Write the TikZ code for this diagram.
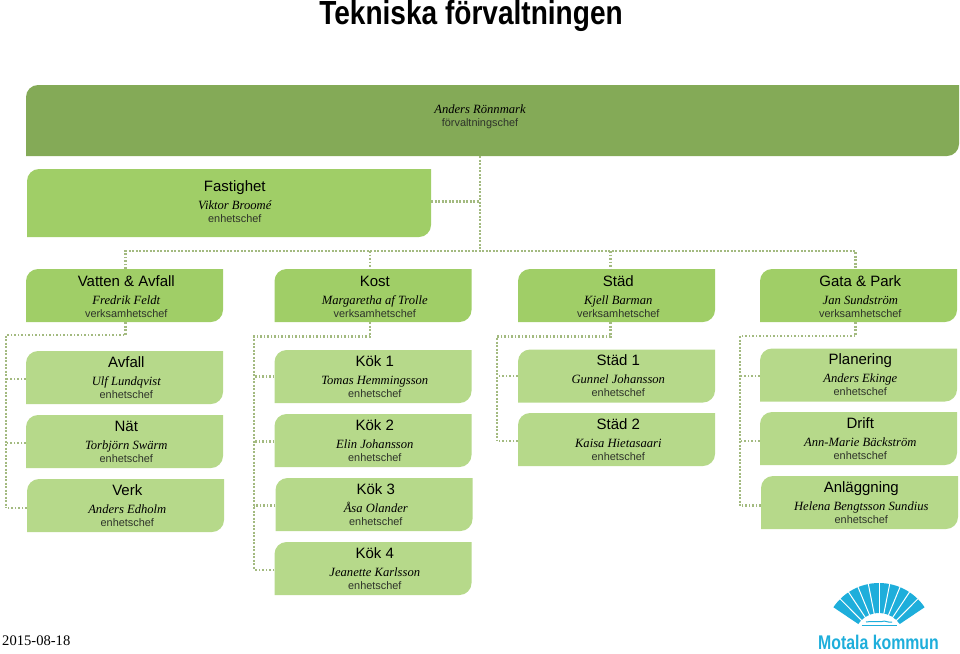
\documentclass[tikz,border=0pt]{standalone}
\usepackage{fontspec}
\setmainfont{Liberation Serif}
\setsansfont{Liberation Sans}
\newfontfamily\pagefont[FakeStretch=0.84]{Liberation Sans}
\newfontfamily\logofont[FakeStretch=0.8]{Liberation Sans}
\usetikzlibrary{positioning,calc}

\definecolor{topgreen}{HTML}{84AA57}
\definecolor{midgreen}{HTML}{A0CE67}
\definecolor{lowgreen}{HTML}{B6D98A}
\definecolor{dotgreen}{HTML}{A3BA80}
\definecolor{logoblue}{HTML}{1EAEDB}
\definecolor{rolegray}{HTML}{2E332A}

\newcommand{\tileshape}[5]{\fill[#1] (#2,#3+#5) -- (#2,#3+12) arc[start angle=180,end angle=270,radius=12] -- (#2+#4,#3) -- (#2+#4,#3+#5-12) arc[start angle=0,end angle=90,radius=12] -- cycle;}
\newcommand{\tiletext}[3]{{\sffamily\fontsize{15}{13}\selectfont #1}\\[5pt]{\itshape\fontsize{12.6}{13}\selectfont #2}\\{\sffamily\fontsize{10.9}{13}\selectfont\color{rolegray} #3}}

\tikzset{
	unit/.style={minimum width=197pt,minimum height=53pt,inner sep=0pt},
	unittext/.style={align=center,inner sep=0pt,xshift=1.8pt,text=black,font=\fontsize{12}{13}\selectfont},
	midgreen text/.style={yshift=-1.3pt},
	lowgreen text/.style={yshift=0pt},
	dotline/.style={draw=dotgreen,line width=2.4pt,dash pattern=on 1.8pt off 1.7pt},
}

\begin{document}
\begin{tikzpicture}[x=1pt,y=-1pt]
			\useasboundingbox (0,0) rectangle (960,653);
			\node[inner sep=0pt,font=\pagefont\bfseries\fontsize{33.4}{34}\selectfont] (pagetitle) at (471,16) {Tekniska förvaltningen};

			\tileshape{topgreen}{26}{85}{933}{71}
			\tileshape{midgreen}{27}{169}{404}{68}
			\node[minimum width=933pt,minimum height=71pt,inner sep=0pt] (top) at (492.5,120.5) {};
			\node[minimum width=404pt,minimum height=68pt,inner sep=0pt] (fastighet) at (229,203) {};
			\node[unittext,xshift=-1.8pt] (toptext) at (480,116.5) {{\itshape\fontsize{12.6}{13}\selectfont Anders Rönnmark}\\{\sffamily\fontsize{10.9}{13}\selectfont\color{rolegray} förvaltningschef}};
			\node[unittext,xshift=2pt,yshift=-0.5pt] (fastighettext) at (231,201) {\tiletext{Fastighet}{Viktor Broomé}{enhetschef}};

			\foreach \name/\x/\y/\tone/\head/\person/\role in {
				vatten/26/269/midgreen/Vatten \& Avfall/Fredrik Feldt/verksamhetschef,
				kost/274.5/269/midgreen/Kost/Margaretha af Trolle/verksamhetschef,
				stad/518/269/midgreen/Städ/Kjell Barman/verksamhetschef,
				gata/760/269/midgreen/Gata \& Park/Jan Sundström/verksamhetschef,
				avfall/26/351/lowgreen/Avfall/Ulf Lundqvist/enhetschef,
				nat/26/415/lowgreen/Nät/Torbjörn Swärm/enhetschef,
				verk/27/479/lowgreen/Verk/Anders Edholm/enhetschef,
				kok1/274.5/350/lowgreen/Kök 1/Tomas Hemmingsson/enhetschef,
				kok2/274.5/414/lowgreen/Kök 2/Elin Johansson/enhetschef,
				kok3/275.5/478/lowgreen/Kök 3/Åsa Olander/enhetschef,
				kok4/274.5/542/lowgreen/Kök 4/Jeanette Karlsson/enhetschef,
				stad1/518/349.5/lowgreen/Städ 1/Gunnel Johansson/enhetschef,
				stad2/518/413/lowgreen/Städ 2/Kaisa Hietasaari/enhetschef,
				planering/760/348.5/lowgreen/Planering/Anders Ekinge/enhetschef,
				drift/760/412/lowgreen/Drift/Ann-Marie Bäckström/enhetschef,
				anlaggning/761/476/lowgreen/Anläggning/Helena Bengtsson Sundius/enhetschef%
			} {
				\tileshape{\tone}{\x}{\y}{197}{53}
				\node[unit,label={[unittext,\tone\space text]center:{\tiletext{\head}{\person}{\role}}}] (\name) at (\x+98.5,\y+26.5) {};
			}

			\coordinate (trunk) at (480,251);
			\coordinate (vattendrop) at (125.5,251);
			\coordinate (kostdrop) at (370,251);
			\coordinate (staddrop) at (610.5,251);
			\coordinate (gatadrop) at (855.5,251);
			\coordinate (vattenbend) at (125.5,335);
			\coordinate (vattenrail) at (6,335);
			\coordinate (kostbend) at (370,336.5);
			\coordinate (kostrail) at (254,336.5);
			\coordinate (stadbend) at (610.5,336.5);
			\coordinate (stadrail) at (497,336.5);
			\coordinate (gatabend) at (855.5,336);
			\coordinate (gatarail) at (740,336);

			\draw[dotline] (trunk |- top.south) -- (trunk);
			\path (fastighet.east) ++(0,-1.5) coordinate (fastighetstub);
			\draw[dotline] (fastighetstub) -- (fastighetstub -| trunk);
			\draw[dotline] (vattendrop |- vatten.north) -- (vattendrop) -- (gatadrop) -- (gatadrop |- gata.north);
			\draw[dotline] (kostdrop) -- (kostdrop |- kost.north);
			\draw[dotline] (staddrop) -- (staddrop |- stad.north);

			\foreach \parent/\last/\dy in {vatten/verk/2.5,kost/kok4/1.5,stad/stad2/1.5,gata/anlaggning/3} {
				\path (\last.west) ++(0,\dy) coordinate (railend);
				\draw[dotline] (\parent bend |- \parent.south) -- (\parent bend) -- (\parent rail) -- (\parent rail |- railend);
			}
			\foreach \rail/\unitname/\dy in {vatten/avfall/1.5,vatten/nat/1.5,vatten/verk/2.5,kost/kok1/0,kost/kok2/1,kost/kok3/1,kost/kok4/1.5,stad/stad1/0,stad/stad2/1.5,gata/planering/1,gata/drift/2.5,gata/anlaggning/3} {
				\path (\unitname.west) ++(0,\dy) coordinate (stub);
				\draw[dotline] (stub) -- (stub -| \rail rail);
			}

			\node[inner sep=0pt,anchor=west,font=\fontsize{14.6}{15}\selectfont] (datestamp) at (2,641) {2015-08-18};

			\begin{scope}[shift={(879,638)},yscale=-1]
				\fill[logoblue] (34:25) -- (34:55) arc[start angle=34,end angle=146,radius=55] -- (146:25) arc[start angle=146,end angle=34,radius=25] -- cycle;
				\foreach \a in {45.2,56.4,...,135} {\draw[white,line width=1pt] (\a:24) -- (\a:56);}
			\end{scope}
			\draw[logoblue,line width=1.8pt] (861.5,625.5) -- (897,625.5);
			\draw[logoblue,line width=1pt] (866,622) .. controls (869,620) and (871,623) .. (874,621.5) .. controls (877,620) and (879,623) .. (882,621.5) .. controls (885,620) and (888,623) .. (892,622);
			\node[inner sep=0pt,text=logoblue,font=\logofont\bfseries\fontsize{19.8}{21}\selectfont] (logotext) at (878.5,642.5) {Motala kommun};
		\end{tikzpicture}
\end{document}
